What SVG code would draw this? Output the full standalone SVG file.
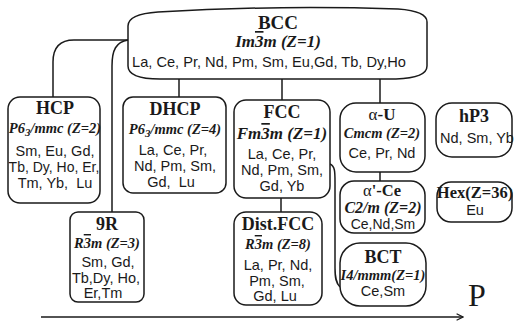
<svg xmlns="http://www.w3.org/2000/svg" width="516" height="321" viewBox="0 0 516 321">
<defs>
<style>
.box{fill:#fff;stroke:#1a1a1a;stroke-width:1.5}
.con{fill:none;stroke:#1a1a1a;stroke-width:1.5}
.t{font-family:"Liberation Serif",serif;font-weight:bold;font-size:18px;fill:#1a1a1a;text-anchor:middle}
.sg{font-family:"Liberation Serif",serif;font-weight:bold;font-style:italic;font-size:14.5px;fill:#1a1a1a;text-anchor:middle}
.el{font-family:"Liberation Sans",Arial,sans-serif;font-size:14.5px;fill:#1a1a1a;text-anchor:middle}
.ol{text-decoration:overline}
</style>
<marker id="ah" viewBox="0 0 10 10" refX="9" refY="5" markerWidth="8" markerHeight="8" orient="auto" markerUnits="userSpaceOnUse">
<path d="M1,1 L9,5 L1,9" fill="none" stroke="#1a1a1a" stroke-width="1.5"/>
</marker>
</defs>
<rect width="516" height="321" fill="#fff"/>
<g id="connectors">
<line class="con" x1="179" y1="79" x2="179" y2="97"/>
<line class="con" x1="282" y1="79" x2="282" y2="100"/>
<line class="con" x1="380" y1="79" x2="380" y2="103"/>
<path class="con" d="M128,40 L74,40 Q53,40 53,62 L53,97"/>
<path class="con" d="M128,40 C116,42 112,50 112,66 L112,212"/>
<path class="con" d="M330,164 C335,166 335,172 335,182 L335,268 C335,278 336,283 340,287"/>
<line class="con" x1="281" y1="198" x2="281" y2="212"/>
<line class="con" x1="380" y1="172" x2="380" y2="181"/>
<line class="con" x1="41" y1="317" x2="463" y2="317" marker-end="url(#ah)"/>
</g>
<g id="bcc">
<path class="box" d="M128,26 Q128,14 158,12 Q277,5 398,9 Q427,11 427,22 L427,66 Q427,78 396,79 L160,79 Q128,79 128,66 Z"/>
<text class="t" x="278" y="29" style="font-size:19px">BCC</text>
<text class="sg" x="278" y="47" style="font-size:17px">Im<tspan class="ol">3</tspan>m (Z=1)</text>
<text class="el" x="269" y="67" textLength="274" lengthAdjust="spacingAndGlyphs">La, Ce, Pr, Nd, Pm, Sm, Eu,Gd, Tb, Dy,Ho</text>
</g>
<g id="hcp">
<rect class="box" x="8" y="97" width="92" height="106" rx="12"/>
<text class="t" x="55" y="114">HCP</text>
<text class="sg" x="55" y="133">P6<tspan style="font-size:11px" dy="3">3</tspan><tspan dy="-3">/mmc (Z=2)</tspan></text>
<text class="el" x="55" y="156">Sm, Eu, Gd,</text>
<text class="el" x="54" y="172" style="font-size:14px">Tb, Dy, Ho, Er,</text>
<text class="el" x="55" y="188" xml:space="preserve">Tm, Yb,  Lu</text>
</g>
<g id="dhcp">
<rect class="box" x="123" y="97" width="103" height="96" rx="10"/>
<text class="t" x="175" y="115">DHCP</text>
<text class="sg" x="175" y="134">P6<tspan style="font-size:11px" dy="3">3</tspan><tspan dy="-3">/mmc (Z=4)</tspan></text>
<text class="el" x="173" y="155">La, Ce, Pr,</text>
<text class="el" x="175" y="171">Nd, Pm, Sm,</text>
<text class="el" x="171" y="187" xml:space="preserve">Gd,  Lu</text>
</g>
<g id="fcc">
<rect class="box" x="234" y="100" width="96" height="98" rx="12"/>
<text class="t" x="282" y="118">FCC</text>
<text class="sg" x="282" y="139" style="font-size:17px">Fm<tspan class="ol">3</tspan>m (Z=1)</text>
<text class="el" x="282" y="159">La, Ce, Pr,</text>
<text class="el" x="282" y="175">Nd, Pm, Sm,</text>
<text class="el" x="282" y="191">Gd, Yb</text>
</g>
<g id="alpha-u">
<rect class="box" x="340" y="103" width="85" height="69" rx="16"/>
<text class="t" x="382" y="120" style="font-size:17px"><tspan font-weight="normal">α</tspan>-U</text>
<text class="sg" x="382" y="138">Cmcm (Z=2)</text>
<text class="el" x="382" y="158">Ce, Pr, Nd</text>
</g>
<g id="hp3">
<rect class="box" x="436" y="103" width="76" height="54" rx="16"/>
<text class="t" x="474" y="122">hP3</text>
<text class="el" x="477" y="143">Nd, Sm, Yb</text>
</g>
<g id="alpha-ce">
<rect class="box" x="340" y="181" width="85" height="52" rx="14"/>
<text class="t" x="382" y="196" style="font-size:16.5px"><tspan font-weight="normal">α</tspan>'-Ce</text>
<text class="sg" x="383" y="213" style="font-size:16px">C2/m (Z=2)</text>
<text class="el" x="383" y="229" style="font-size:14px">Ce,Nd,Sm</text>
</g>
<g id="hex">
<rect class="box" x="437" y="182" width="75" height="40" rx="14"/>
<text class="t" x="475" y="198" style="font-size:16.5px">Hex(Z=36)</text>
<text class="el" x="475" y="215">Eu</text>
</g>
<g id="dist-fcc">
<rect class="box" x="234" y="212" width="88" height="93" rx="12"/>
<text class="t" x="278" y="230">Dist.FCC</text>
<text class="sg" x="278" y="249">R<tspan class="ol">3</tspan>m (Z=8)</text>
<text class="el" x="278" y="270">La, Pr, Nd,</text>
<text class="el" x="277" y="286">Pm, Sm,</text>
<text class="el" x="275" y="301">Gd, Lu</text>
</g>
<g id="r9">
<rect class="box" x="70" y="212" width="74" height="90" rx="8"/>
<text class="t" x="107" y="230">9R</text>
<text class="sg" x="107" y="248">R<tspan class="ol">3</tspan>m (Z=3)</text>
<text class="el" x="108" y="267">Sm, Gd,</text>
<text class="el" x="106" y="283">Tb,Dy, Ho,</text>
<text class="el" x="103" y="298">Er,Tm</text>
</g>
<g id="bct">
<rect class="box" x="340" y="243" width="86" height="63" rx="20"/>
<text class="t" x="383" y="263">BCT</text>
<text class="sg" x="383" y="280">I4/mmm(Z=1)</text>
<text class="el" x="383" y="296">Ce,Sm</text>
</g>
<text x="468" y="306" font-family="Liberation Serif,serif" font-size="32" fill="#1a1a1a">P</text>
</svg>
